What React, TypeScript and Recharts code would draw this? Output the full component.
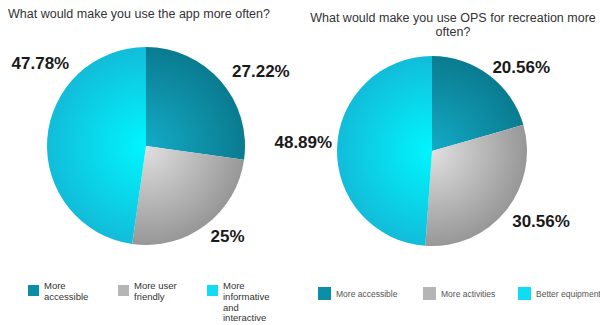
import { PieChart, Pie, Cell } from "recharts";

// 左: アプリ利用
const appCategories = ["More accessible", "More user friendly", "More informative and interactive"];
const appValues = [27.22, 25, 47.78];
const appLegendLines = [["More", "accessible"], ["More user", "friendly"], ["More", "informative", "and", "interactive"]];

// 右: OPS利用
const opsCategories = ["More accessible", "More activities", "Better equipment"];
const opsValues = [20.56, 30.56, 48.89];

const GRADS = [
  { id: "teal", inner: "#13abc6", outer: "#0a7b90" },
  { id: "gray", inner: "#e0e0e0", outer: "#979797" },
  { id: "cyan", inner: "#00f6ff", outer: "#12bcd9" },
];
const SWATCH = ["#0b8ea6", "#b5b5b5", "#10dcf4"];

const FONT = "'Liberation Sans', Arial, sans-serif";

// ラベル位置 (角度, 中心からの距離)
const APP_LABEL_POS = [{ a: 33, d: 137 }, { a: -48, d: 122 }, { a: 142, d: 134 }];
const OPS_LABEL_POS = [{ a: 43, d: 122 }, { a: -33, d: 130 }, { a: 176, d: 129 }];

const RAD = Math.PI / 180;

function makeLabel(pos: { a: number; d: number }[]) {
  return (props: any) => {
    const { cx, cy, index, value } = props;
    const p = pos[index];
    const x = cx + p.d * Math.cos(p.a * RAD);
    const y = cy - p.d * Math.sin(p.a * RAD);
    return (
      <text x={x} y={y} textAnchor="middle" dominantBaseline="central" fontFamily={FONT} fontWeight="bold" fontSize={17} fill="#1a1a1a">
        {`${value}%`}
      </text>
    );
  };
}

function Grads({ prefix, cx, cy, r }: { prefix: string; cx: number; cy: number; r: number }) {
  return (
    <defs>
      {GRADS.map((g) => (
        <radialGradient key={g.id} id={`${prefix}-${g.id}`} gradientUnits="userSpaceOnUse" cx={cx} cy={cy} r={r}>
          <stop offset="0%" stopColor={g.inner} />
          <stop offset="100%" stopColor={g.outer} />
        </radialGradient>
      ))}
    </defs>
  );
}

function PieBlock({ prefix, names, values, width, cx, cy, r, labelPos }: any) {
  const data = names.map((name: string, i: number) => ({ name, value: values[i] }));
  return (
    <PieChart width={width} height={270} margin={{ top: 0, right: 0, bottom: 0, left: 0 }}>
      <Grads prefix={prefix} cx={cx} cy={cy} r={r} />
      <Pie
        data={data}
        dataKey="value"
        cx={cx}
        cy={cy}
        outerRadius={r}
        startAngle={90}
        endAngle={-270}
        stroke="none"
        labelLine={false}
        label={makeLabel(labelPos)}
        isAnimationActive={false}
      >
        {data.map((_: any, i: number) => (
          <Cell key={i} fill={`url(#${prefix}-${GRADS[i].id})`} />
        ))}
      </Pie>
    </PieChart>
  );
}

function Swatch({ color, size }: { color: string; size: number }) {
  return <span style={{ display: "inline-block", width: size, height: size, background: color, flexShrink: 0 }} />;
}

export default function App() {
  return (
    <div style={{ position: "absolute", left: 0, top: 0, width: 600, height: 325, background: "#fff", overflow: "hidden", fontFamily: FONT }}>
      {/* 左チャート */}
      <div style={{ position: "absolute", left: 0, top: 0 }}>
        <PieBlock prefix="app" names={appCategories} values={appValues} width={290} cx={146} cy={146} r={99} labelPos={APP_LABEL_POS} />
      </div>
      <div style={{ position: "absolute", left: 8, top: 7, fontSize: 12.5, color: "#333" }}>
        What would make you use the app more often?
      </div>
      {[28, 118, 207].map((lx, i) => (
        <div key={i} style={{ position: "absolute", left: lx, top: 281, display: "flex", gap: 5, fontSize: 9.5, lineHeight: "10.8px", color: "#333" }}>
          <span style={{ marginTop: 4 }}>
            <Swatch color={SWATCH[i]} size={11} />
          </span>
          <div>
            {appLegendLines[i].map((l) => (
              <div key={l}>{l}</div>
            ))}
          </div>
        </div>
      ))}

      {/* 右チャート */}
      <div style={{ position: "absolute", left: 270, top: 0 }}>
        <PieBlock prefix="ops" names={opsCategories} values={opsValues} width={330} cx={162} cy={151} r={95} labelPos={OPS_LABEL_POS} />
      </div>
      <div style={{ position: "absolute", left: 305, top: 11, width: 296, textAlign: "center", fontSize: 12.5, lineHeight: "14px", color: "#333" }}>
        What would make you use OPS for recreation more
        <br />
        often?
      </div>
      {[318, 423, 518].map((lx, i) => (
        <div key={i} style={{ position: "absolute", left: lx, top: 287, display: "flex", alignItems: "center", gap: 5, fontSize: 8.5, color: "#555", whiteSpace: "nowrap" }}>
          <Swatch color={SWATCH[i]} size={13} />
          <span>{opsCategories[i]}</span>
        </div>
      ))}
    </div>
  );
}
